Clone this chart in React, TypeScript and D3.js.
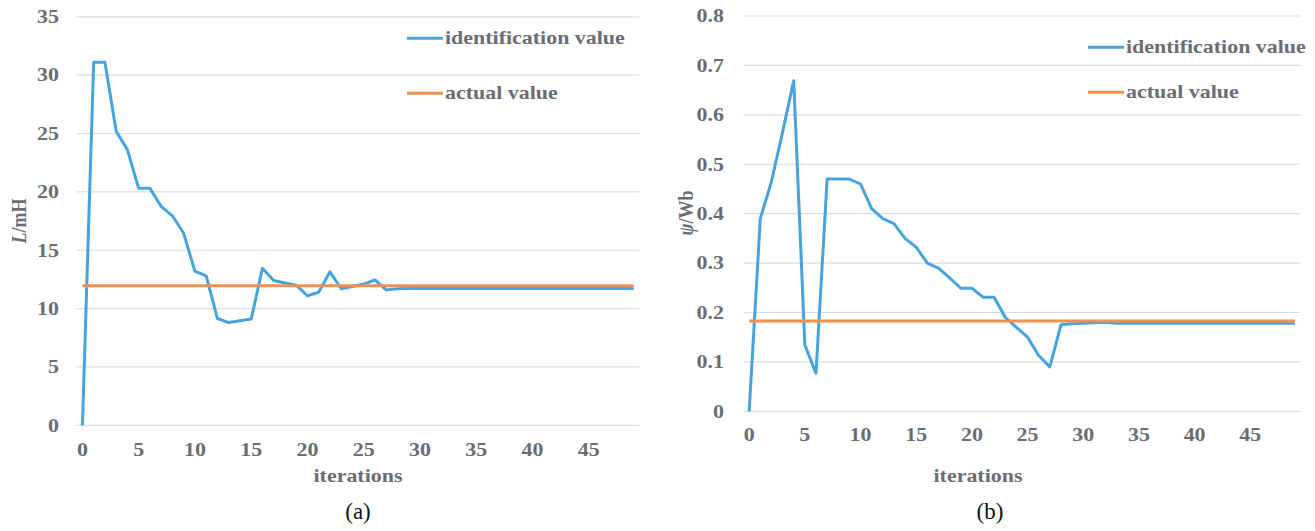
import React from "react";
import * as d3 from "d3";

// ---------- data ----------
const iterations: number[] = [
  0, 1, 2, 3, 4, 5, 6, 7, 8, 9, 10, 11, 12, 13, 14, 15, 16, 17, 18, 19, 20, 21, 22, 23, 24,
  25, 26, 27, 28, 29, 30, 31, 32, 33, 34, 35, 36, 37, 38, 39, 40, 41, 42, 43, 44, 45, 46, 47, 48, 49,
];
const xTickLabels: number[] = [0, 5, 10, 15, 20, 25, 30, 35, 40, 45];

const inductanceIdentified: number[] = [
  0, 31.1, 31.1, 25.2, 23.6, 20.3, 20.3, 18.75, 17.95, 16.45,
  13.2, 12.8, 9.15, 8.8, 8.95, 9.1, 13.45, 12.4, 12.2, 12.0,
  11.1, 11.4, 13.15, 11.7, 11.9, 12.1, 12.45, 11.6, 11.7, 11.72,
  11.72, 11.72, 11.72, 11.72, 11.72, 11.72, 11.72, 11.72, 11.72, 11.72,
  11.72, 11.72, 11.72, 11.72, 11.72, 11.72, 11.72, 11.72, 11.72, 11.72,
];
const inductanceActual = 11.95;
const inductanceTicks: number[] = [0, 5, 10, 15, 20, 25, 30, 35];

const fluxIdentified: number[] = [
  0, 0.39, 0.465, 0.565, 0.669, 0.134, 0.077, 0.47, 0.47, 0.47,
  0.46, 0.41, 0.39, 0.38, 0.35, 0.332, 0.3, 0.29, 0.27, 0.249,
  0.249, 0.231, 0.231, 0.19, 0.17, 0.15, 0.113, 0.09, 0.175, 0.177,
  0.178, 0.179, 0.18, 0.178, 0.178, 0.178, 0.178, 0.178, 0.178, 0.178,
  0.178, 0.178, 0.178, 0.178, 0.178, 0.178, 0.178, 0.178, 0.178, 0.178,
];
const fluxActual = 0.183;
const fluxTicks: number[] = [0, 0.1, 0.2, 0.3, 0.4, 0.5, 0.6, 0.7, 0.8];

const legendLabels: string[] = ["identification value", "actual value"];

// ---------- styles ----------
const SERIF = "'Liberation Serif', 'Times New Roman', serif";
const GRAY = "#6a6d72";
const BLUE = "#47a3dd";
const ORANGE = "#ef9150";
const GRID = "#dadde2";
const SX = 1.22;

function SText(props: {
  x: number; y: number; anchor?: string; size?: number; fill?: string;
  weight?: string; sx?: number; rotate?: number; children: React.ReactNode;
}) {
  const { x, y, anchor = "start", size = 18, fill = GRAY, weight = "bold", sx = SX, rotate = 0 } = props;
  const tf = rotate
    ? `translate(${x},${y}) rotate(${rotate}) scale(1,${sx})`
    : `translate(${x},${y}) scale(${sx},1)`;
  return (
    <g transform={tf}>
      <text textAnchor={anchor} fontFamily={SERIF} fontSize={size} fontWeight={weight} fill={fill}>
        {props.children}
      </text>
    </g>
  );
}

interface PanelProps {
  values: number[];
  actual: number;
  yTicks: number[];
  yMax: number;
  xRange: [number, number];
  yRange: [number, number];
  yLabelEnd: number;
  xLabelY: number;
  fmt: (v: number) => string;
  titleX: number;
  titleY: number;
  title: React.ReactNode;
  legendX: number;
  legendY: [number, number];
  iterX: number;
  captionX: number;
  caption: string;
}

function Panel(p: PanelProps) {
  const x = d3.scaleLinear().domain([-0.5, 49.5]).range(p.xRange);
  const y = d3.scaleLinear().domain([0, p.yMax]).range(p.yRange);
  const line = d3
    .line<number>()
    .x((_, i) => x(iterations[i]))
    .y((v) => y(v));
  const [x0, x1] = p.xRange;
  return (
    <g>
      {p.yTicks.map((t) => (
        <line key={"g" + t} x1={x0} x2={x1} y1={y(t)} y2={y(t)} stroke={GRID} strokeWidth={1.2} />
      ))}
      {p.yTicks.map((t) => (
        <SText key={"yt" + t} x={p.yLabelEnd} y={y(t) + 6.3} anchor="end">
          {p.fmt(t)}
        </SText>
      ))}
      {xTickLabels.map((t) => (
        <SText key={"xt" + t} x={x(t)} y={p.xLabelY} anchor="middle">
          {String(t)}
        </SText>
      ))}
      <path d={line(p.values) || ""} fill="none" stroke={BLUE} strokeWidth={3} strokeLinejoin="round" />
      <line
        x1={x(iterations[0])}
        x2={x(iterations[iterations.length - 1])}
        y1={y(p.actual)}
        y2={y(p.actual)}
        stroke={ORANGE}
        strokeWidth={3}
      />
      {/* legend */}
      {legendLabels.map((lab, i) => (
        <g key={lab}>
          <line
            x1={p.legendX}
            x2={p.legendX + 36}
            y1={p.legendY[i]}
            y2={p.legendY[i]}
            stroke={i === 0 ? BLUE : ORANGE}
            strokeWidth={3}
          />
          <SText x={p.legendX + 38} y={p.legendY[i] + 6}>
            {lab}
          </SText>
        </g>
      ))}
      <SText x={p.iterX} y={482} anchor="middle">
        iterations
      </SText>
      <SText x={p.titleX} y={p.titleY} anchor="middle" rotate={-90}>
        {p.title}
      </SText>
      <text
        x={p.captionX}
        y={519}
        textAnchor="middle"
        fontFamily={SERIF}
        fontSize={23}
        fill="#111"
      >
        {p.caption}
      </text>
    </g>
  );
}

export default function App() {
  return (
    <svg
      width={1315}
      height={531}
      style={{ position: "absolute", left: 0, top: 0, background: "#fff" }}
    >
      <rect width={1315} height={531} fill="#fff" />
      <Panel
        values={inductanceIdentified}
        actual={inductanceActual}
        yTicks={inductanceTicks}
        yMax={35}
        xRange={[76.8, 639.3]}
        yRange={[425.3, 16.8]}
        yLabelEnd={59}
        xLabelY={455.5}
        fmt={(v) => String(v)}
        titleX={26}
        titleY={221}
        title={
          <>
            <tspan fontStyle="italic">L</tspan>/mH
          </>
        }
        legendX={407}
        legendY={[38.3, 93.3]}
        iterX={358}
        captionX={358}
        caption="(a)"
      />
      <Panel
        values={fluxIdentified}
        actual={fluxActual}
        yTicks={fluxTicks}
        yMax={0.8}
        xRange={[743.6, 1300.4]}
        yRange={[411.3, 16]}
        yLabelEnd={724}
        xLabelY={440.5}
        fmt={(v) => (v === 0 ? "0" : v.toFixed(1))}
        titleX={693}
        titleY={213}
        title={
          <>
            <tspan fontStyle="italic">ψ</tspan>/Wb
          </>
        }
        legendX={1088}
        legendY={[47.3, 92.3]}
        iterX={978}
        captionX={990}
        caption="(b)"
      />
    </svg>
  );
}
